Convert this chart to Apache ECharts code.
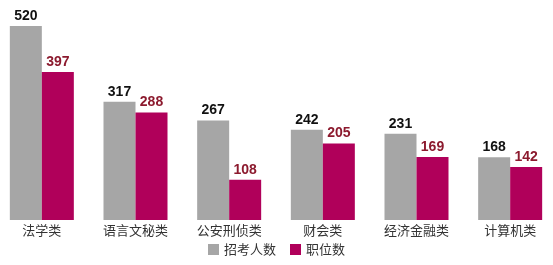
<!DOCTYPE html>
<html><head><meta charset="utf-8">
<script src="https://cdn.jsdelivr.net/npm/echarts@6/dist/echarts.min.js"></script>
<style>html,body{margin:0;padding:0;background:#fff;overflow:hidden}#c{width:563px;height:265px;margin-left:-5px}</style>
</head><body><div id="c"></div>
<script>
const categories = ['法学类','语言文秘类','公安刑侦类','财会类','经济金融类','计算机类'];
const applicants = [520,317,267,242,231,168];
const positions = [397,288,108,205,169,142];
const seriesNames = ['招考人数','职位数'];

const chart = echarts.init(document.getElementById('c'));
chart.setOption({
  animation:false,
  backgroundColor:'#fff',
  grid:{left:0,width:562,top:26,bottom:45,containLabel:false},
  legend:{
    data:seriesNames, bottom:4, left:'center', itemWidth:11, itemHeight:11, itemGap:14,
    icon:'rect',
    textStyle:{fontFamily:'Noto Sans CJK SC',fontSize:13,color:'#333'}
  },
  xAxis:{
    type:'category', data:categories,
    axisLine:{show:false}, axisTick:{show:false},
    axisLabel:{fontFamily:'Noto Sans CJK SC',fontSize:13,color:'#333',margin:4}
  },
  yAxis:{type:'value',min:0,max:520,show:false,splitLine:{show:false}},
  series:[
    {name:seriesNames[0],type:'bar',data:applicants,barWidth:32,barGap:'0%',
     itemStyle:{color:'#A6A6A6'},
     label:{show:true,position:'top',distance:3,fontFamily:'Arial, Liberation Sans',fontWeight:'bold',fontSize:14,color:'#111'}},
    {name:seriesNames[1],type:'bar',data:positions,barWidth:32,barGap:'0%',
     itemStyle:{color:'#B0005A'},
     label:{show:true,position:'top',distance:3,fontFamily:'Arial, Liberation Sans',fontWeight:'bold',fontSize:14,color:'#8C1A2E'}}
  ]
});
</script></body></html>
